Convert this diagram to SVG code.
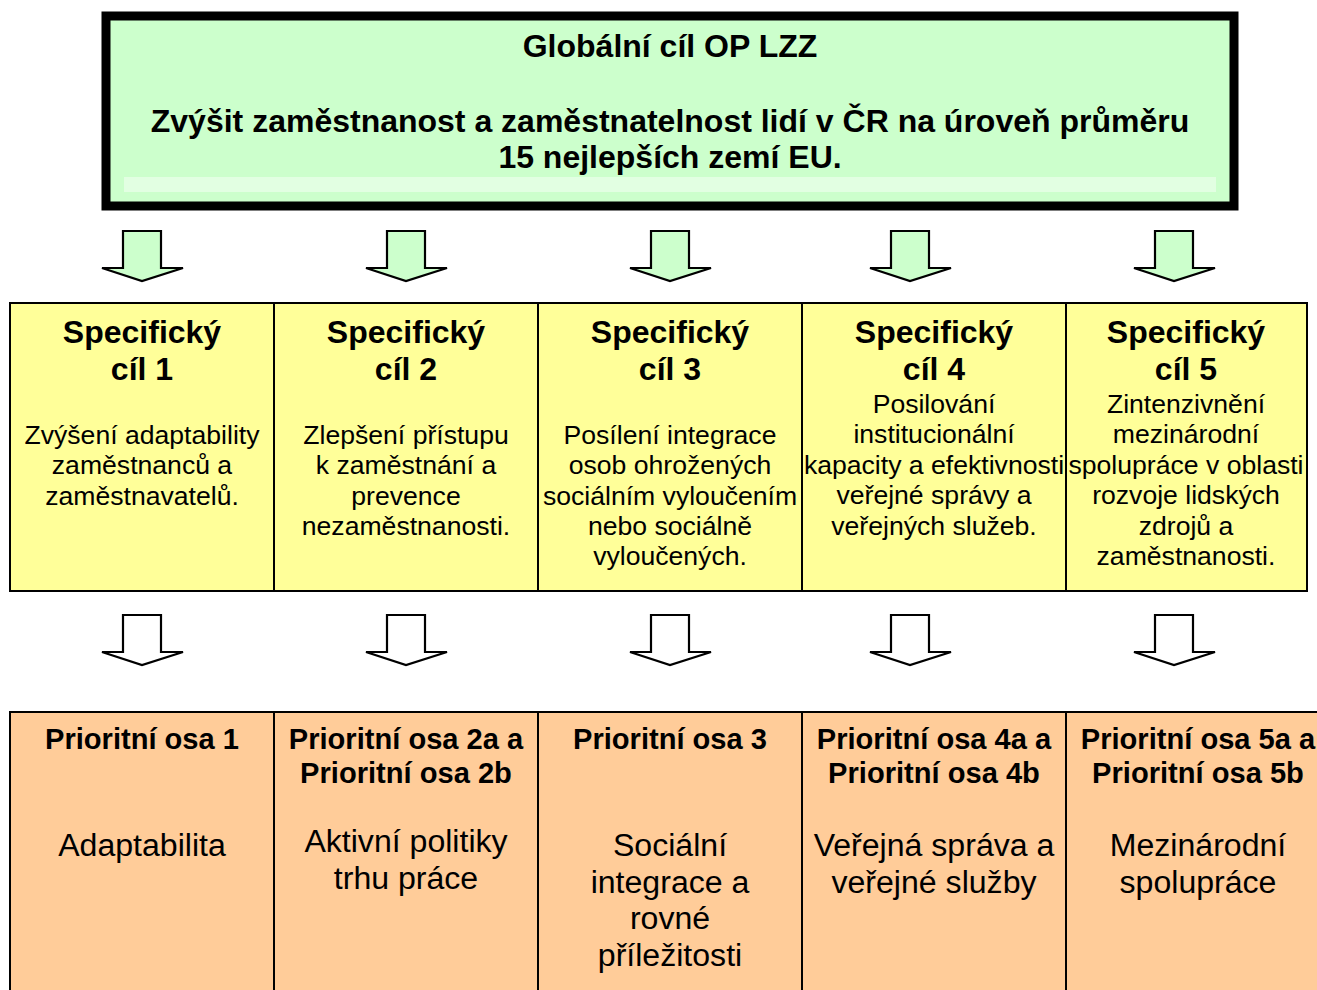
<svg xmlns="http://www.w3.org/2000/svg" width="1317" height="990" viewBox="0 0 1317 990">
<style>
text{font-family:"Liberation Sans",Arial,sans-serif;fill:#000;text-anchor:middle}
.b{font-weight:bold}
.t{font-size:32px}
.h{font-size:32px}
.s{font-size:26.6px}
.ph{font-size:29.1px}
.pb{font-size:32.1px}
.y{fill:#FFFF99;stroke:#000;stroke-width:2}
.o{fill:#FFCC99;stroke:#000;stroke-width:2}
.ag{fill:#CCFFCC;stroke:#000;stroke-width:2.2;stroke-linejoin:miter}
.aw{fill:#FFFFFF;stroke:#000;stroke-width:2.2;stroke-linejoin:miter}
</style>
<defs>
<path id="arr" d="M-19,0 H19 V37 H41 L0,50 L-40,37 H-19 Z"/>
</defs>
<rect width="1317" height="990" fill="#fff"/>

<g id="global">
<rect x="106" y="16" width="1128" height="190" fill="#CCFFCC" stroke="#000" stroke-width="9"/>
<rect x="124" y="177" width="1092" height="15" fill="#E2FFE2"/>
<text class="b t" x="670" y="57">Globální cíl OP LZZ</text>
<text class="b t" x="670" y="132">Zvýšit zaměstnanost a zaměstnatelnost lidí v ČR na úroveň průměru</text>
<text class="b t" x="670" y="168">15 nejlepších zemí EU.</text>
</g>

<g id="connectors">
<use href="#arr" class="ag" x="142" y="231"/>
<use href="#arr" class="ag" x="406" y="231"/>
<use href="#arr" class="ag" x="670" y="231"/>
<use href="#arr" class="ag" x="910" y="231"/>
<use href="#arr" class="ag" x="1174" y="231"/>
<use href="#arr" class="aw" x="142" y="615"/>
<use href="#arr" class="aw" x="406" y="615"/>
<use href="#arr" class="aw" x="670" y="615"/>
<use href="#arr" class="aw" x="910" y="615"/>
<use href="#arr" class="aw" x="1174" y="615"/>
</g>

<g id="sc1">
<rect class="y" x="10" y="303" width="264" height="288"/>
<text class="b h" x="142" y="343">Specifický</text>
<text class="b h" x="142" y="380">cíl 1</text>
<text class="s" x="142" y="444">Zvýšení adaptability</text>
<text class="s" x="142" y="474">zaměstnanců a</text>
<text class="s" x="142" y="505">zaměstnavatelů.</text>
</g>
<g id="sc2">
<rect class="y" x="274" y="303" width="264" height="288"/>
<text class="b h" x="406" y="343">Specifický</text>
<text class="b h" x="406" y="380">cíl 2</text>
<text class="s" x="406" y="444">Zlepšení přístupu</text>
<text class="s" x="406" y="474">k zaměstnání a</text>
<text class="s" x="406" y="505">prevence</text>
<text class="s" x="406" y="535">nezaměstnanosti.</text>
</g>
<g id="sc3">
<rect class="y" x="538" y="303" width="264" height="288"/>
<text class="b h" x="670" y="343">Specifický</text>
<text class="b h" x="670" y="380">cíl 3</text>
<text class="s" x="670" y="444">Posílení integrace</text>
<text class="s" x="670" y="474">osob ohrožených</text>
<text class="s" x="670" y="505">sociálním vyloučením</text>
<text class="s" x="670" y="535">nebo sociálně</text>
<text class="s" x="670" y="565">vyloučených.</text>
</g>
<g id="sc4">
<rect class="y" x="802" y="303" width="264" height="288"/>
<text class="b h" x="934" y="343">Specifický</text>
<text class="b h" x="934" y="380">cíl 4</text>
<text class="s" x="934" y="413">Posilování</text>
<text class="s" x="934" y="443">institucionální</text>
<text class="s" x="934" y="474">kapacity a efektivnosti</text>
<text class="s" x="934" y="504">veřejné správy a</text>
<text class="s" x="934" y="535">veřejných služeb.</text>
</g>
<g id="sc5">
<rect class="y" x="1066" y="303" width="241" height="288"/>
<text class="b h" x="1186" y="343">Specifický</text>
<text class="b h" x="1186" y="380">cíl 5</text>
<text class="s" x="1186" y="413">Zintenzivnění</text>
<text class="s" x="1186" y="443">mezinárodní</text>
<text class="s" x="1186" y="474">spolupráce v oblasti</text>
<text class="s" x="1186" y="504">rozvoje lidských</text>
<text class="s" x="1186" y="535">zdrojů a</text>
<text class="s" x="1186" y="565">zaměstnanosti.</text>
</g>

<g id="po1">
<rect class="o" x="10" y="712" width="264" height="300"/>
<text class="b ph" x="142" y="749">Prioritní osa 1</text>
<text class="pb" x="142" y="856">Adaptabilita</text>
</g>
<g id="po2">
<rect class="o" x="274" y="712" width="264" height="300"/>
<text class="b ph" x="406" y="749">Prioritní osa 2a a</text>
<text class="b ph" x="406" y="783">Prioritní osa 2b</text>
<text class="pb" x="406" y="852">Aktivní politiky</text>
<text class="pb" x="406" y="889">trhu práce</text>
</g>
<g id="po3">
<rect class="o" x="538" y="712" width="264" height="300"/>
<text class="b ph" x="670" y="749">Prioritní osa 3</text>
<text class="pb" x="670" y="856">Sociální</text>
<text class="pb" x="670" y="893">integrace a</text>
<text class="pb" x="670" y="929">rovné</text>
<text class="pb" x="670" y="966">příležitosti</text>
</g>
<g id="po4">
<rect class="o" x="802" y="712" width="264" height="300"/>
<text class="b ph" x="934" y="749">Prioritní osa 4a a</text>
<text class="b ph" x="934" y="783">Prioritní osa 4b</text>
<text class="pb" x="934" y="856">Veřejná správa a</text>
<text class="pb" x="934" y="893">veřejné služby</text>
</g>
<g id="po5">
<rect class="o" x="1066" y="712" width="264" height="300"/>
<text class="b ph" x="1198" y="749">Prioritní osa 5a a</text>
<text class="b ph" x="1198" y="783">Prioritní osa 5b</text>
<text class="pb" x="1198" y="856">Mezinárodní</text>
<text class="pb" x="1198" y="893">spolupráce</text>
</g>
</svg>
